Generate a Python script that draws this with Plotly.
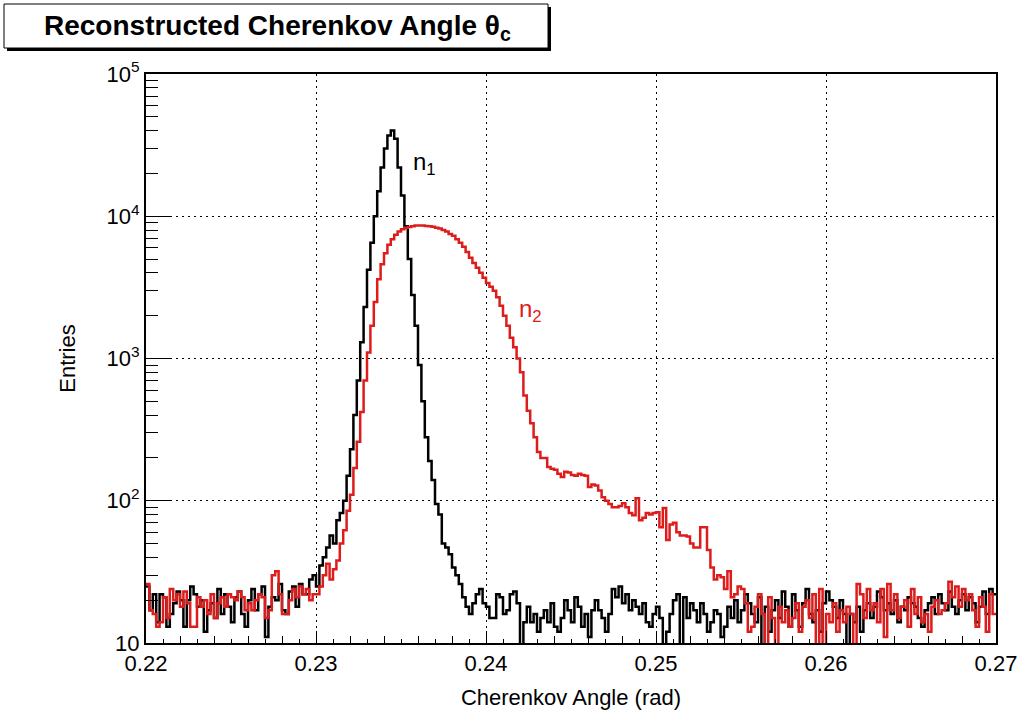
import plotly.graph_objects as go

# ---------------- data ----------------
bin_low = 0.22
bin_width = 0.0002
n_bins = 250

x_tick_vals = [0.22, 0.23, 0.24, 0.25, 0.26, 0.27]
x_tick_text = ["0.22", "0.23", "0.24", "0.25", "0.26", "0.27"]
y_tick_vals = [10, 100, 1000, 10000, 100000]
y_tick_text = ["10", "10<sup>2</sup>", "10<sup>3</sup>", "10<sup>4</sup>", "10<sup>5</sup>"]

# n1 (black) entries per bin
n1_counts = [
    25, 17, 22, 14, 22, 21, 13, 16, 19, 23, 20, 13, 20, 25, 22, 18, 20, 12, 17, 19,
    15, 24, 16, 22, 18, 14, 21, 23, 16, 13, 20, 24, 17, 22, 25, 11, 18, 21, 20, 26,
    17, 16, 23, 25, 18, 26, 22, 22, 28, 30, 25, 35, 40, 47, 57, 50, 73, 82, 100, 150,
    230, 400, 700, 1300, 2300, 4200, 6500, 10000, 15000, 22000, 30000, 37000, 40000, 35000, 22000, 14000, 8500, 5000, 2800, 1700,
    900, 500, 280, 190, 140, 95, 80, 50, 47, 42, 34, 30, 26, 21, 18, 16, 19, 22, 24, 19,
    18, 15, 15, 22, 21, 16, 17, 22, 23, 19, 9, 14, 18, 14, 16, 12, 15, 17, 14, 19,
    13, 12, 15, 20, 17, 14, 21, 18, 13, 16, 11, 17, 20, 17, 15, 12, 16, 24, 21, 25,
    19, 22, 17, 20, 18, 16, 19, 14, 13, 16, 18, 15, 8, 12, 16, 20, 22, 8, 21, 15,
    19, 17, 14, 19, 16, 12, 14, 17, 16, 11, 13, 18, 15, 20, 14, 17, 22, 19, 16, 14,
    21, 8, 18, 12, 17, 20, 15, 23, 18, 13, 22, 17, 13, 19, 24, 16, 14, 17, 12, 19,
    23, 20, 18, 15, 20, 16, 8, 16, 14, 18, 12, 17, 19, 15, 18, 23, 21, 17, 19, 16,
    20, 14, 18, 17, 21, 19, 18, 15, 13, 17, 19, 21, 16, 22, 19, 17, 23, 18, 16, 20,
    22, 17, 21, 19, 14, 18, 23, 16, 24, 22,
]

# n2 (red) entries per bin
n2_counts = [
    26, 17, 16, 13, 14, 21, 15, 24, 20, 22, 18, 23, 19, 13, 13, 21, 18, 20, 16, 22,
    15, 19, 21, 18, 22, 21, 20, 23, 21, 17, 19, 17, 20, 22, 21, 15, 17, 30, 32, 22,
    16, 16, 20, 24, 21, 25, 22, 24, 20, 22, 22, 25, 30, 36, 28, 33, 38, 50, 62, 85,
    110, 170, 260, 420, 700, 1100, 1700, 2500, 3600, 4600, 5500, 6300, 6900, 7400, 7800, 8100, 8300, 8400, 8500, 8600,
    8600, 8600, 8550, 8500, 8450, 8300, 8200, 8000, 7800, 7500, 7300, 6900, 6500, 6100, 5600, 5100, 4700, 4350, 4000, 3700,
    3400, 3200, 3000, 2700, 2350, 2000, 1700, 1400, 1200, 1000, 800, 550, 430, 350, 280, 220, 200, 200, 173, 168,
    165, 155, 147, 160, 158, 152, 150, 155, 152, 150, 125, 130, 128, 118, 106, 100, 95, 90, 90, 92,
    96, 90, 82, 79, 104, 73, 76, 82, 80, 82, 83, 65, 89, 53, 68, 70, 60, 57, 57, 56,
    50, 47, 47, 65, 65, 45, 34, 28, 30, 29, 24, 32, 21, 22, 25, 24, 19, 12, 13, 18,
    22, 16, 9, 21, 15, 8, 18, 14, 17, 13, 15, 19, 12, 18, 20, 15, 22, 8, 24, 9,
    16, 14, 19, 12, 17, 14, 18, 16, 9, 26, 22, 15, 24, 17, 19, 14, 24, 11, 26, 17,
    22, 15, 18, 20, 13, 24, 16, 21, 14, 16, 12, 18, 20, 16, 17, 19, 27, 21, 25, 18,
    24, 20, 22, 17, 13, 21, 18, 12, 22, 16,
]

assert len(n1_counts) == n_bins and len(n2_counts) == n_bins

bin_edges = [bin_low + i * bin_width for i in range(n_bins + 1)]

# ---------------- layout constants ----------------
W, H = 1018, 717
L, R, T, B = 146, 996, 74, 643   # plot area in page pixels
FONT = "Liberation Sans"
RED = "#dd1c1c"
GRID_DASH = "2px,4px"


def px(xpage):
    return (xpage - L) / (R - L)


def py(ypage):
    return (B - ypage) / (B - T)


fig = go.Figure()

fig.add_trace(go.Scatter(
    x=bin_edges, y=n1_counts + [n1_counts[-1]],
    mode="lines", line=dict(color="black", width=2.5, shape="hv"),
    name="n1", showlegend=False, hoverinfo="skip",
))
fig.add_trace(go.Scatter(
    x=bin_edges, y=n2_counts + [n2_counts[-1]],
    mode="lines", line=dict(color=RED, width=2.5, shape="hv"),
    name="n2", showlegend=False, hoverinfo="skip",
))
# dummy trace so that the overlay axes (extra tick marks) are drawn
fig.add_trace(go.Scatter(x=[0.22], y=[10], xaxis="x2", yaxis="y2", mode="lines",
                         showlegend=False, hoverinfo="skip"))

minor_y = [m * 10 ** e for e in range(1, 5) for m in range(2, 10)]
medium_x = [round(0.22 + 0.002 * i, 4) for i in range(26)]

fig.update_layout(
    template="none",
    width=W, height=H,
    margin=dict(l=L, r=W - R, t=T, b=H - B, pad=0, autoexpand=False),
    paper_bgcolor="white", plot_bgcolor="white",
    font=dict(family=FONT, color="black", size=22),
    xaxis=dict(
        range=[0.22, 0.27], tickvals=x_tick_vals, ticktext=x_tick_text,
        ticks="inside", ticklen=12, tickwidth=1, tickcolor="black",
        showline=True, linewidth=2, linecolor="black", mirror=True,
        showgrid=True, gridcolor="black", gridwidth=1, griddash=GRID_DASH,
        zeroline=False, tickfont=dict(size=22), automargin=False,
        minor=dict(dtick=0.001, tick0=0.22, ticks="inside", ticklen=4,
                   tickcolor="black", tickwidth=1, showgrid=False),
        title=dict(text="Cherenkov Angle (rad)", font=dict(size=22), standoff=14),
    ),
    xaxis2=dict(
        range=[0.22, 0.27], overlaying="x", anchor="y", side="bottom",
        tickvals=medium_x, ticks="inside", ticklen=7, tickwidth=1, tickcolor="black",
        showticklabels=False, showgrid=False, showline=False, zeroline=False,
        automargin=False,
    ),
    yaxis=dict(
        type="log", range=[1, 5], tickvals=y_tick_vals, ticktext=y_tick_text,
        ticks="inside", ticklen=24, tickwidth=1, tickcolor="black",
        showline=True, linewidth=2, linecolor="black", mirror=True,
        showgrid=True, gridcolor="black", gridwidth=1, griddash=GRID_DASH,
        zeroline=False, tickfont=dict(size=22), automargin=False,
        title=dict(text="Entries", font=dict(size=22), standoff=25),
    ),
    yaxis2=dict(
        type="log", range=[1, 5], overlaying="y", anchor="x", side="left",
        tickvals=minor_y, ticks="inside", ticklen=12, tickwidth=1, tickcolor="black",
        showticklabels=False, showgrid=False, showline=False, zeroline=False,
        automargin=False,
    ),
    showlegend=False,
)

# title box with shadow
fig.add_shape(type="rect", xref="paper", yref="paper",
              x0=px(7), x1=px(551), y0=py(51), y1=py(7),
              fillcolor="black", line=dict(width=0), layer="above")
fig.add_shape(type="rect", xref="paper", yref="paper",
              x0=px(4), x1=px(548), y0=py(48), y1=py(4),
              fillcolor="white", line=dict(color="black", width=1), layer="above")
fig.add_annotation(xref="paper", yref="paper", x=px(277), y=py(27),
                   text="<b>Reconstructed Cherenkov Angle θ<sub>c</sub></b>",
                   showarrow=False, xanchor="center", yanchor="middle",
                   font=dict(family=FONT, size=28, color="black"))

# curve labels
fig.add_annotation(x=0.2364, y=4.37, text="n<sub>1</sub>", showarrow=False,
                   font=dict(family=FONT, size=24, color="black"))
fig.add_annotation(x=0.2426, y=3.34, text="n<sub>2</sub>", showarrow=False,
                   font=dict(family=FONT, size=24, color=RED))

fig.write_html(
    "out.html",
    config={"displayModeBar": False},
    post_script="document.body.style.margin='0px';document.body.style.overflow='hidden';",
)
